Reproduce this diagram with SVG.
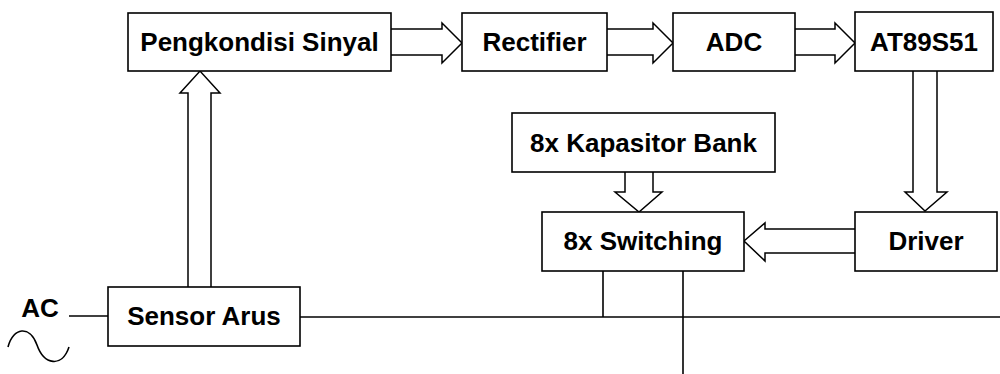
<svg xmlns="http://www.w3.org/2000/svg" width="1000" height="374" viewBox="0 0 1000 374">
<style>
.box{fill:#fff;stroke:#000;stroke-width:1.6}
.t{font-family:"Liberation Sans",Arial,sans-serif;font-weight:bold;font-size:26px;fill:#000;text-anchor:middle}
.arr{fill:#fff;stroke:#000;stroke-width:1.5;stroke-linejoin:miter}
.ln{fill:none;stroke:#000;stroke-width:1.6}
</style>
<rect width="1000" height="374" fill="#fff"/>
<g id="connectors">
<path class="arr" d="M391,29 H442 V23 L462,43 L442,63 V55 H391"/>
<path class="arr" d="M607,29 H653 V23 L673,43 L653,63 V55 H607"/>
<path class="arr" d="M795,29 H835 V23 L855,43 L835,63 V55 H795"/>
<path class="arr" d="M188,287 V93 H180 L200,71 L220,93 H211 V287"/>
<path class="arr" d="M913,71 V192 H905 L925,211 L947,192 H937 V71"/>
<path class="arr" d="M625,172 V192 H615 L639,212 L662,192 H653 V172"/>
<path class="arr" d="M855,229 H765 V223 L744,241 L765,261 V253 H855"/>
<path class="ln" d="M69,316 H108"/>
<path class="ln" d="M300,317 H1000"/>
<path class="ln" d="M603,271 V317"/>
<path class="ln" d="M683,271 V374"/>
</g>
<g id="ac">
<text class="t" x="40" y="317">AC</text>
<path class="ln" d="M8,347 C13,327 30,325 37,345 S 62,368 69,347"/>
</g>
<g id="pengkondisi"><rect class="box" x="128" y="13" width="263" height="58"/><text class="t" x="259.5" y="51">Pengkondisi Sinyal</text></g>
<g id="rectifier"><rect class="box" x="462" y="13" width="145" height="58"/><text class="t" x="534.5" y="51">Rectifier</text></g>
<g id="adc"><rect class="box" x="673" y="13" width="122" height="58"/><text class="t" x="734" y="51">ADC</text></g>
<g id="at89s51"><rect class="box" x="855" y="12" width="138" height="59"/><text class="t" x="924" y="51">AT89S51</text></g>
<g id="kapasitor"><rect class="box" x="512" y="113" width="263" height="59"/><text class="t" x="643.5" y="151.5">8x Kapasitor Bank</text></g>
<g id="switching"><rect class="box" x="542" y="212" width="202" height="59"/><text class="t" x="643" y="250">8x Switching</text></g>
<g id="driver"><rect class="box" x="855" y="212" width="142" height="59"/><text class="t" x="926" y="250">Driver</text></g>
<g id="sensor"><rect class="box" x="108" y="287" width="192" height="59"/><text class="t" x="204" y="325">Sensor Arus</text></g>
</svg>
